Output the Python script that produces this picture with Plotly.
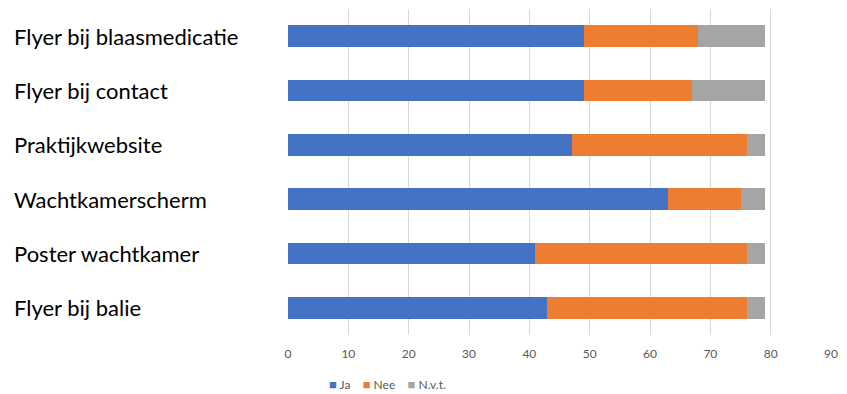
import plotly.graph_objects as go

categories = ["Flyer bij blaasmedicatie", "Flyer bij contact", "Praktijkwebsite",
              "Wachtkamerscherm", "Poster wachtkamer", "Flyer bij balie"]
ja = [49, 49, 47, 63, 41, 43]
nee = [19, 18, 29, 12, 35, 33]
nvt = [11, 12, 3, 4, 3, 3]
x_ticks = [0, 10, 20, 30, 40, 50, 60, 70, 80, 90]

series = [("Ja", ja, "#4472C4"), ("Nee", nee, "#ED7D31"), ("N.v.t.", nvt, "#A5A5A5")]

fig = go.Figure()
for name, vals, color in series:
    fig.add_trace(go.Bar(
        y=categories, x=vals, name=name, orientation="h",
        marker=dict(color=color, line=dict(width=0)),
        width=0.4, showlegend=False,
    ))

# Left-aligned category labels
for cat in categories:
    fig.add_annotation(
        x=-0.508, xref="paper", y=cat, yref="y", text=cat, showarrow=False,
        xanchor="left", yanchor="middle",
        font=dict(family="Lato, sans-serif", size=22, color="#000000"),
    )

# Compact legend with small square swatches
legend_text = "&nbsp;&nbsp;&nbsp;&nbsp;".join(
    f"<span style='color:{color}; font-size:13px'>■</span> {name}" for name, _, color in series
)
fig.add_annotation(
    x=(327 - 288) / 543, xref="paper", y=1 - (384 - 9) / 326, yref="paper",
    text=legend_text, showarrow=False, xanchor="left", yanchor="middle",
    font=dict(family="Lato, sans-serif", size=12, color="#595959"),
)

fig.update_layout(
    barmode="stack",
    width=847, height=394,
    margin=dict(l=288, r=16, t=9, b=59, autoexpand=False),
    plot_bgcolor="white", paper_bgcolor="white",
    xaxis=dict(range=[0, 90], tickvals=x_ticks, showgrid=True, gridcolor="#D9D9D9",
               gridwidth=1, zeroline=False, showline=False, ticks="",
               ticklabelstandoff=10,
               tickfont=dict(family="Lato, sans-serif", size=12, color="#595959")),
    yaxis=dict(autorange="reversed", showticklabels=False, showgrid=False,
               zeroline=False, showline=False, ticks=""),
)

fig.write_html("out.html")
